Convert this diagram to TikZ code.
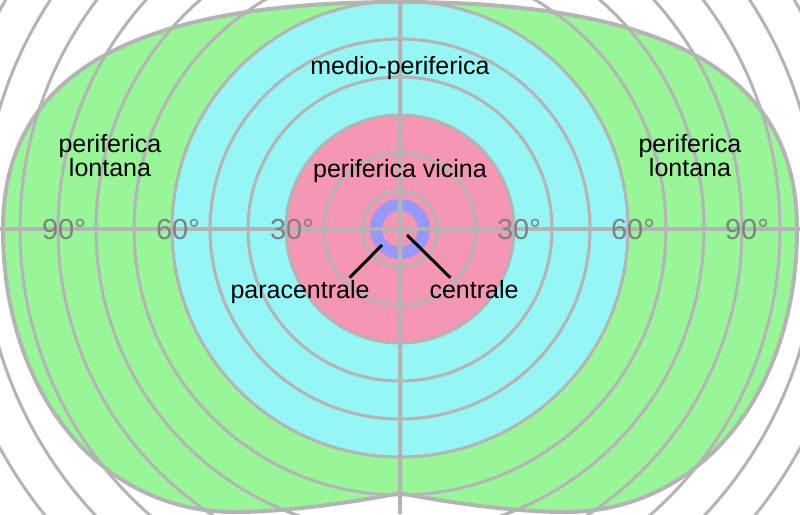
\documentclass[tikz,border=0pt]{standalone}
\usepackage{fontspec}
\setmainfont{Liberation Sans}
\usetikzlibrary{calc}
\definecolor{fieldGreen}{RGB}{152,246,152}
\definecolor{fieldCyan}{RGB}{150,246,246}
\definecolor{fieldPink}{RGB}{245,150,180}
\definecolor{fieldBlue}{RGB}{152,152,250}
\definecolor{gridGrey}{RGB}{180,180,180}
\definecolor{degGrey}{RGB}{128,128,128}
\tikzset{
    ring/.style={draw=gridGrey, line width=3pt},
    axisline/.style={draw=gridGrey, line width=4pt},
    rim/.style={draw=gridGrey, line width=4pt, line join=round},
    zonelbl/.style={font=\fontsize{25}{24}\selectfont, align=center, inner sep=2pt, text=black},
    deglbl/.style={font=\fontsize{29}{29}\selectfont, text=degGrey, inner sep=0pt},
    leader/.style={draw=black, line width=3pt}
}
% one half of the binocular field, temporal side to the left
\newcommand{\lobepath}{(0,227) .. controls (-270,227) and (-397,154) .. (-397,0)
    .. controls (-397,-164) and (-300,-283) .. (-165,-283)
    .. controls (-110,-283) and (-40,-272) .. (0,-264) -- cycle}

\begin{document}
\begin{tikzpicture}[x=1pt, y=1pt]
    \useasboundingbox (-400,-285) rectangle (400,229);
    \fill[white] (-400,-285) rectangle (400,229);
    \begin{scope}
        \clip (-400,-285) rectangle (400,229);
        % zones
        \foreach \s in {-1,1} {
            \fill[fieldGreen, xscale=\s] \lobepath;
        }
        \fill[fieldCyan] (0,0) circle[radius=228pt];
        \fill[fieldPink] (0,0) circle[radius=114pt];
        \fill[fieldBlue, even odd rule] (0,0) circle[radius=30pt] circle[radius=18pt];
        % isopters every 10 degrees
        \foreach \k in {1,...,13} {
            \draw[ring] (0,0) circle[radius=\k*38pt];
        }
        \draw[axisline] (-400,0) -- (400,0);
        \draw[axisline] (0,-285) -- (0,229);
        \foreach \s in {-1,1} {
            \draw[rim, xscale=\s] \lobepath;
        }
    \end{scope}
    % degree marks
    \foreach \nm/\px/\lab in {dL3/-108/30, dL6/-222/60, dL9/-336/90, dR3/119/30, dR6/233/60, dR9/347/90} {
        \node[deglbl] (\nm) at (\px,-1) {\lab°};
    }
    % zone names
    \node[zonelbl, anchor=base] (medio) at (0,154) {medio-periferica};
    \node[zonelbl, anchor=base] (vicina) at (0,51) {periferica vicina};
    \node[zonelbl] (lontanaL) at (-290,73) {periferica\\lontana};
    \node[zonelbl] (lontanaR) at (290,73) {periferica\\lontana};
    \node[zonelbl, anchor=base] (para) at (-100,-69) {paracentrale};
    \node[zonelbl, anchor=base] (cent) at (74,-69) {centrale};
    \coordinate (paraEnd) at (-18,-16);
    \coordinate (centEnd) at (7,-6);
    \draw[leader] ([xshift=-22pt]para.north east) -- (paraEnd);
    \draw[leader] ([xshift=23pt]cent.north west) -- (centEnd);
\end{tikzpicture}
\end{document}
